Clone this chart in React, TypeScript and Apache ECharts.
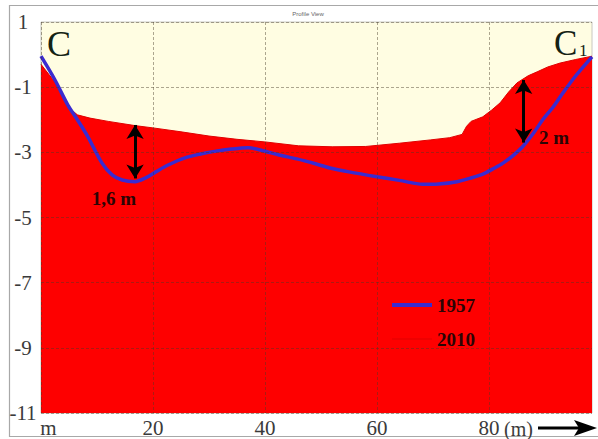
import React, { useEffect, useRef } from "react";
import * as echarts from "echarts";

// Distance along profile (m) and elevation (m)
const x2010 = [0, 2.5, 4.8, 6.5, 8.75, 12, 16.8, 20, 25, 30, 35, 40, 46, 52, 58, 64, 69.5, 73, 75.2, 76, 76.8, 78.9, 80.5, 82, 83.5, 85, 87, 88.6, 90.5, 92.7, 95.5, 98.4];
const y2010 = [-0.3, -0.85, -1.6, -1.85, -1.95, -2.05, -2.18, -2.25, -2.37, -2.5, -2.6, -2.68, -2.8, -2.83, -2.82, -2.72, -2.62, -2.55, -2.45, -2.2, -2.05, -1.91, -1.7, -1.48, -1.15, -0.87, -0.65, -0.53, -0.38, -0.26, -0.15, -0.05];

const x1957 = [0, 2.5, 4.8, 6.5, 8.4, 10.9, 12.7, 14.5, 16.8, 18.6, 20.5, 22.7, 25.7, 28.5, 31, 34, 37, 39.6, 42.5, 45.7, 49, 51.6, 55, 60, 64, 68.2, 71, 74.3, 76.5, 78.9, 81, 82.5, 84.3, 86, 88, 89.6, 91.5, 93.2, 95.5, 98.4];
const y1957 = [-0.05, -0.78, -1.55, -2.0, -2.53, -3.33, -3.69, -3.85, -3.9, -3.79, -3.6, -3.39, -3.17, -3.05, -2.97, -2.9, -2.86, -2.95, -3.08, -3.2, -3.35, -3.48, -3.6, -3.75, -3.86, -3.98, -3.97, -3.9, -3.8, -3.67, -3.48, -3.33, -3.1, -2.83, -2.4, -2.0, -1.6, -1.18, -0.65, -0.07];

const yTicks = [-11, -9, -7, -5, -3, -1, 1];
const xTicks = [0, 20, 40, 60, 80];

// Differences marked by arrows: [x, top, bottom]
const diff1 = [16.8, -2.16, -3.8];
const diff2 = [86.2, -0.78, -2.7];

const SERIF = "'Liberation Serif', 'DejaVu Serif', serif";

export default function App() {
  const ref = useRef<HTMLDivElement>(null);
  useEffect(() => {
    if (!ref.current) return;
    const chart = echarts.init(ref.current, null, { renderer: "svg" });
    const d2010 = x2010.map((x, i) => [x, y2010[i]]);
    const d1957 = x1957.map((x, i) => [x, y1957[i]]);
    const arrowLine = (d: number[]) => [
      { coord: [d[0], d[1]] },
      { coord: [d[0], d[2]] },
    ];
    chart.setOption({
      animation: false,
      backgroundColor: "#ffffff",
      grid: {
        left: 41,
        right: 6,
        top: 22,
        bottom: 26,
        show: true,
        backgroundColor: "#fffde2",
        borderColor: "#c8c8c0",
        borderWidth: 1,
      },
      xAxis: {
        type: "value",
        min: 0,
        max: 98.4,
        z: 5,
        axisLine: { show: false },
        axisTick: { show: false, customValues: xTicks },
        splitLine: {
          show: true,
          lineStyle: { color: "rgba(70,60,40,0.45)", type: [3, 2], width: 1 },
        },
        axisLabel: {
          customValues: xTicks,
          margin: 4,
          fontFamily: SERIF,
          fontSize: 21,
          color: "#3a3a3a",
          formatter: (v: number) => (v === 0 ? "{l|m}" : String(v)),
          rich: {
            l: { padding: [0, 0, 0, 15], fontFamily: SERIF, fontSize: 21, color: "#3a3a3a" },
          },
        },
      },
      yAxis: {
        type: "value",
        min: -11,
        max: 1,
        z: 5,
        axisLine: { show: false },
        axisTick: { show: false, customValues: yTicks },
        splitLine: {
          show: true,
          lineStyle: { color: "rgba(70,60,40,0.45)", type: [3, 2], width: 1 },
        },
        axisLabel: {
          customValues: yTicks,
          align: "center",
          margin: 18,
          fontFamily: SERIF,
          fontSize: 21,
          color: "#3a3a3a",
        },
      },
      legend: {
        orient: "vertical",
        left: 387,
        top: 290,
        itemWidth: 40,
        itemHeight: 14,
        itemGap: 14,
        z: 10,
        data: [
          { name: "1957", icon: "path://M0,0H40V4H0Z" },
          { name: "2010", icon: "path://M0,0H40V1H0Z" },
        ],
        textStyle: {
          fontFamily: SERIF,
          fontSize: 19,
          fontWeight: "bold",
          color: "#2b0505",
          lineHeight: 20,
        },
      },
      series: [
        {
          name: "2010",
          type: "line",
          data: d2010,
          symbol: "none",
          z: 2,
          lineStyle: { color: "#e00000", width: 1 },
          itemStyle: { color: "#e00000" },
          areaStyle: { color: "#fe0000", opacity: 1, origin: "start" },
        },
        {
          name: "1957",
          type: "line",
          data: d1957,
          symbol: "none",
          smooth: 0.3,
          z: 3,
          lineStyle: { color: "#3a2bd0", width: 3.5 },
          itemStyle: { color: "#3a2bd0" },
          markLine: {
            silent: true,
            symbol: ["arrow", "arrow"],
            symbolSize: [13, 14],
            label: { show: false },
            lineStyle: { color: "#000000", width: 3, type: "solid" },
            data: [arrowLine(diff1), arrowLine(diff2)],
          },
        },
      ],
      graphic: [
        {
          type: "rect",
          shape: { x: 9.5, y: 5.5, width: 600, height: 431 },
          style: { fill: "none", stroke: "#a8a8a8", lineWidth: 1.2 },
          silent: true,
          z: 0,
        },
        {
          type: "text",
          x: 308,
          y: 14,
          style: { text: "Profile View", fontSize: 6, fill: "#666", align: "center", verticalAlign: "middle", fontFamily: "Arial, sans-serif" },
        },
        {
          type: "text",
          x: 47,
          y: 44,
          z: 20,
          style: { text: "C", fontSize: 36, fill: "#142214", align: "left", verticalAlign: "middle", fontFamily: SERIF },
        },
        {
          type: "text",
          x: 554,
          y: 43,
          z: 20,
          style: { text: "C", fontSize: 35, fill: "#142214", align: "left", verticalAlign: "middle", fontFamily: SERIF },
        },
        {
          type: "text",
          x: 579,
          y: 50,
          z: 20,
          style: { text: "1", fontSize: 17, fill: "#142214", align: "left", verticalAlign: "middle", fontFamily: SERIF },
        },
        {
          type: "text",
          x: 114,
          y: 198,
          z: 20,
          style: { text: "1,6 m", fontSize: 19, fontWeight: "bold", fill: "#2b0505", align: "center", verticalAlign: "middle", fontFamily: SERIF },
        },
        {
          type: "text",
          x: 554,
          y: 137,
          z: 20,
          style: { text: "2 m", fontSize: 19, fontWeight: "bold", fill: "#2b0505", align: "center", verticalAlign: "middle", fontFamily: SERIF },
        },
        {
          type: "text",
          x: 504,
          y: 429,
          z: 20,
          style: { text: "(m)", fontSize: 20, fill: "#3a3a3a", align: "left", verticalAlign: "middle", fontFamily: SERIF },
        },
        {
          type: "line",
          shape: { x1: 538, y1: 428, x2: 580, y2: 428 },
          style: { stroke: "#000", lineWidth: 3 },
          z: 20,
        },
        {
          type: "polygon",
          shape: { points: [[574, 420], [597, 428], [574, 436], [579, 428]] },
          style: { fill: "#000" },
          z: 20,
        },
      ],
    });
    return () => chart.dispose();
  }, []);
  return (
    <div
      ref={ref}
      style={{ position: "fixed", left: 0, top: 0, width: 598, height: 439 }}
    />
  );
}
